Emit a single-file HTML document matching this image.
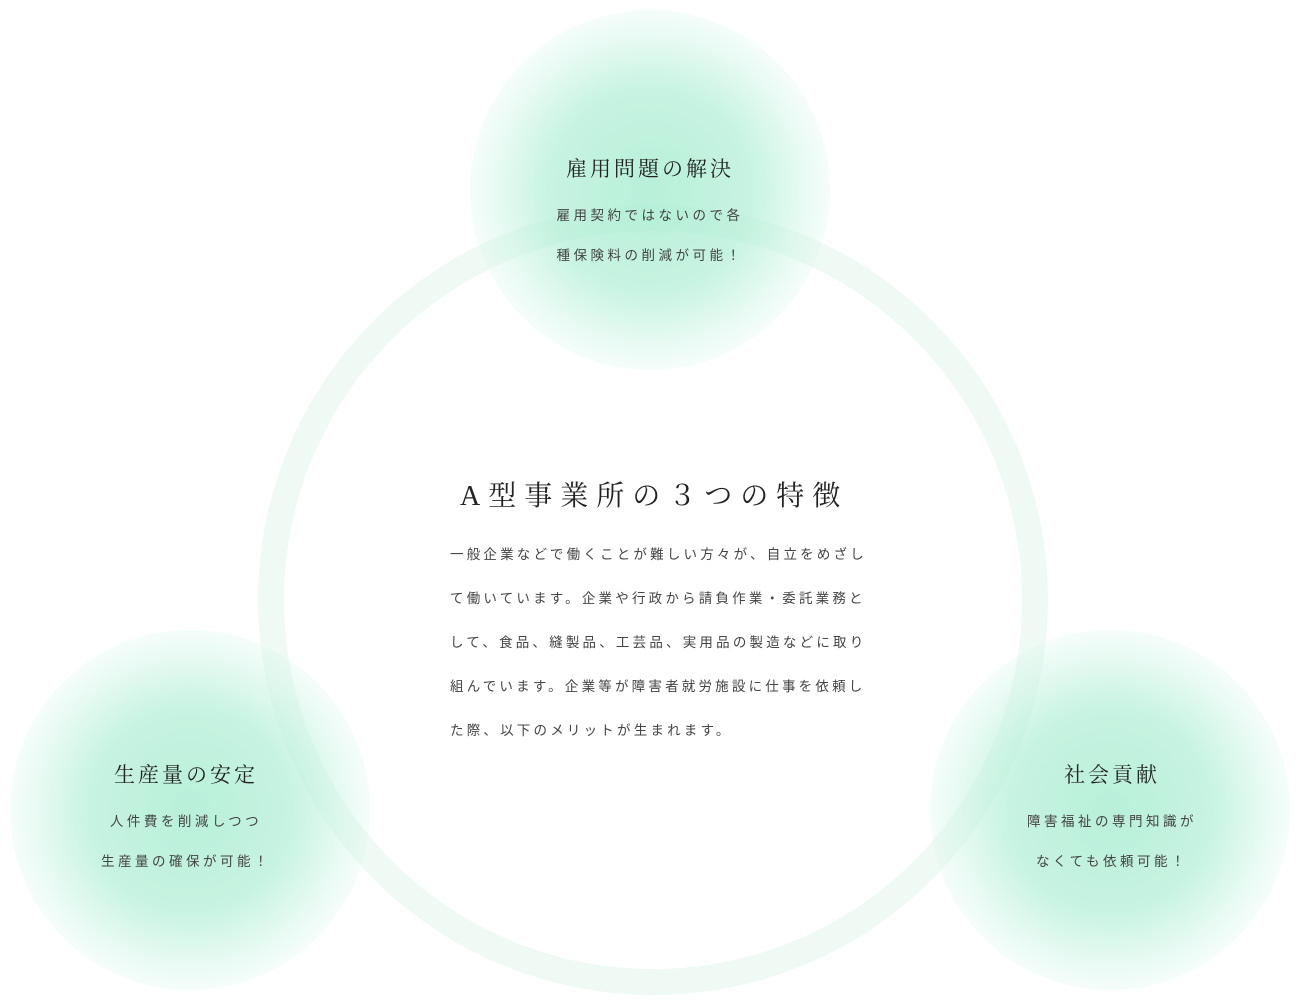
<!DOCTYPE html>
<html><head><meta charset="utf-8"><style>
html,body{margin:0;padding:0;background:#fff;}
body{width:1301px;height:1006px;position:relative;overflow:hidden;font-family:"Liberation Sans","Noto Sans CJK JP",sans-serif;color:#333;}
.blob{position:absolute;border-radius:50%;background:radial-gradient(circle,rgba(160,235,205,0.75) 0%,rgba(170,237,210,0.65) 40%,rgba(195,243,224,0.4) 60%,rgba(225,249,238,0.12) 75%,rgba(240,252,246,0) 85%);}
.h{position:absolute;font-family:"Liberation Serif","Noto Serif CJK SC",serif;font-size:21px;letter-spacing:3px;color:#222;text-align:center;white-space:nowrap;}
.s{position:absolute;font-size:13.5px;letter-spacing:3.5px;color:#444;text-align:center;white-space:nowrap;line-height:40px;}
.ring{position:absolute;left:258px;top:205px;width:790px;height:790px;border-radius:50%;border:26px solid #f0faf5;box-sizing:border-box;}
</style></head><body>
<div class="ring"></div>
<div class="blob" style="left:470px;top:10px;width:360px;height:360px;"></div>
<div class="blob" style="left:10px;top:630px;width:360px;height:360px;"></div>
<div class="blob" style="left:930px;top:630px;width:360px;height:360px;"></div>

<div class="h" style="left:500px;width:300px;top:153px;">雇用問題の解決</div>
<div class="s" style="left:500px;width:300px;top:196px;">雇用契約ではないので各<br>種保険料の削減が可能！</div>

<div class="h" style="left:36px;width:300px;top:759px;">生産量の安定</div>
<div class="s" style="left:36px;width:300px;top:802px;">人件費を削減しつつ<br>生産量の確保が可能！</div>

<div class="h" style="left:962px;width:300px;top:759px;">社会貢献</div>
<div class="s" style="left:962px;width:300px;top:802px;">障害福祉の専門知識が<br>なくても依頼可能！</div>

<div style="position:absolute;left:460px;top:474px;font-family:'Liberation Serif','Noto Serif CJK SC',serif;font-size:28px;letter-spacing:8px;color:#222;white-space:nowrap;">A型事業所の３つの特徴</div>
<div style="position:absolute;left:450px;top:533px;font-size:13.5px;letter-spacing:3.2px;line-height:44px;color:#444;white-space:nowrap;">
一般企業などで働くことが難しい方々が、自立をめざし<br>
て働いています。企業や行政から請負作業・委託業務と<br>
して、食品、縫製品、工芸品、実用品の製造などに取り<br>
組んでいます。企業等が障害者就労施設に仕事を依頼し<br>
た際、以下のメリットが生まれます。
</div>
</body></html>
